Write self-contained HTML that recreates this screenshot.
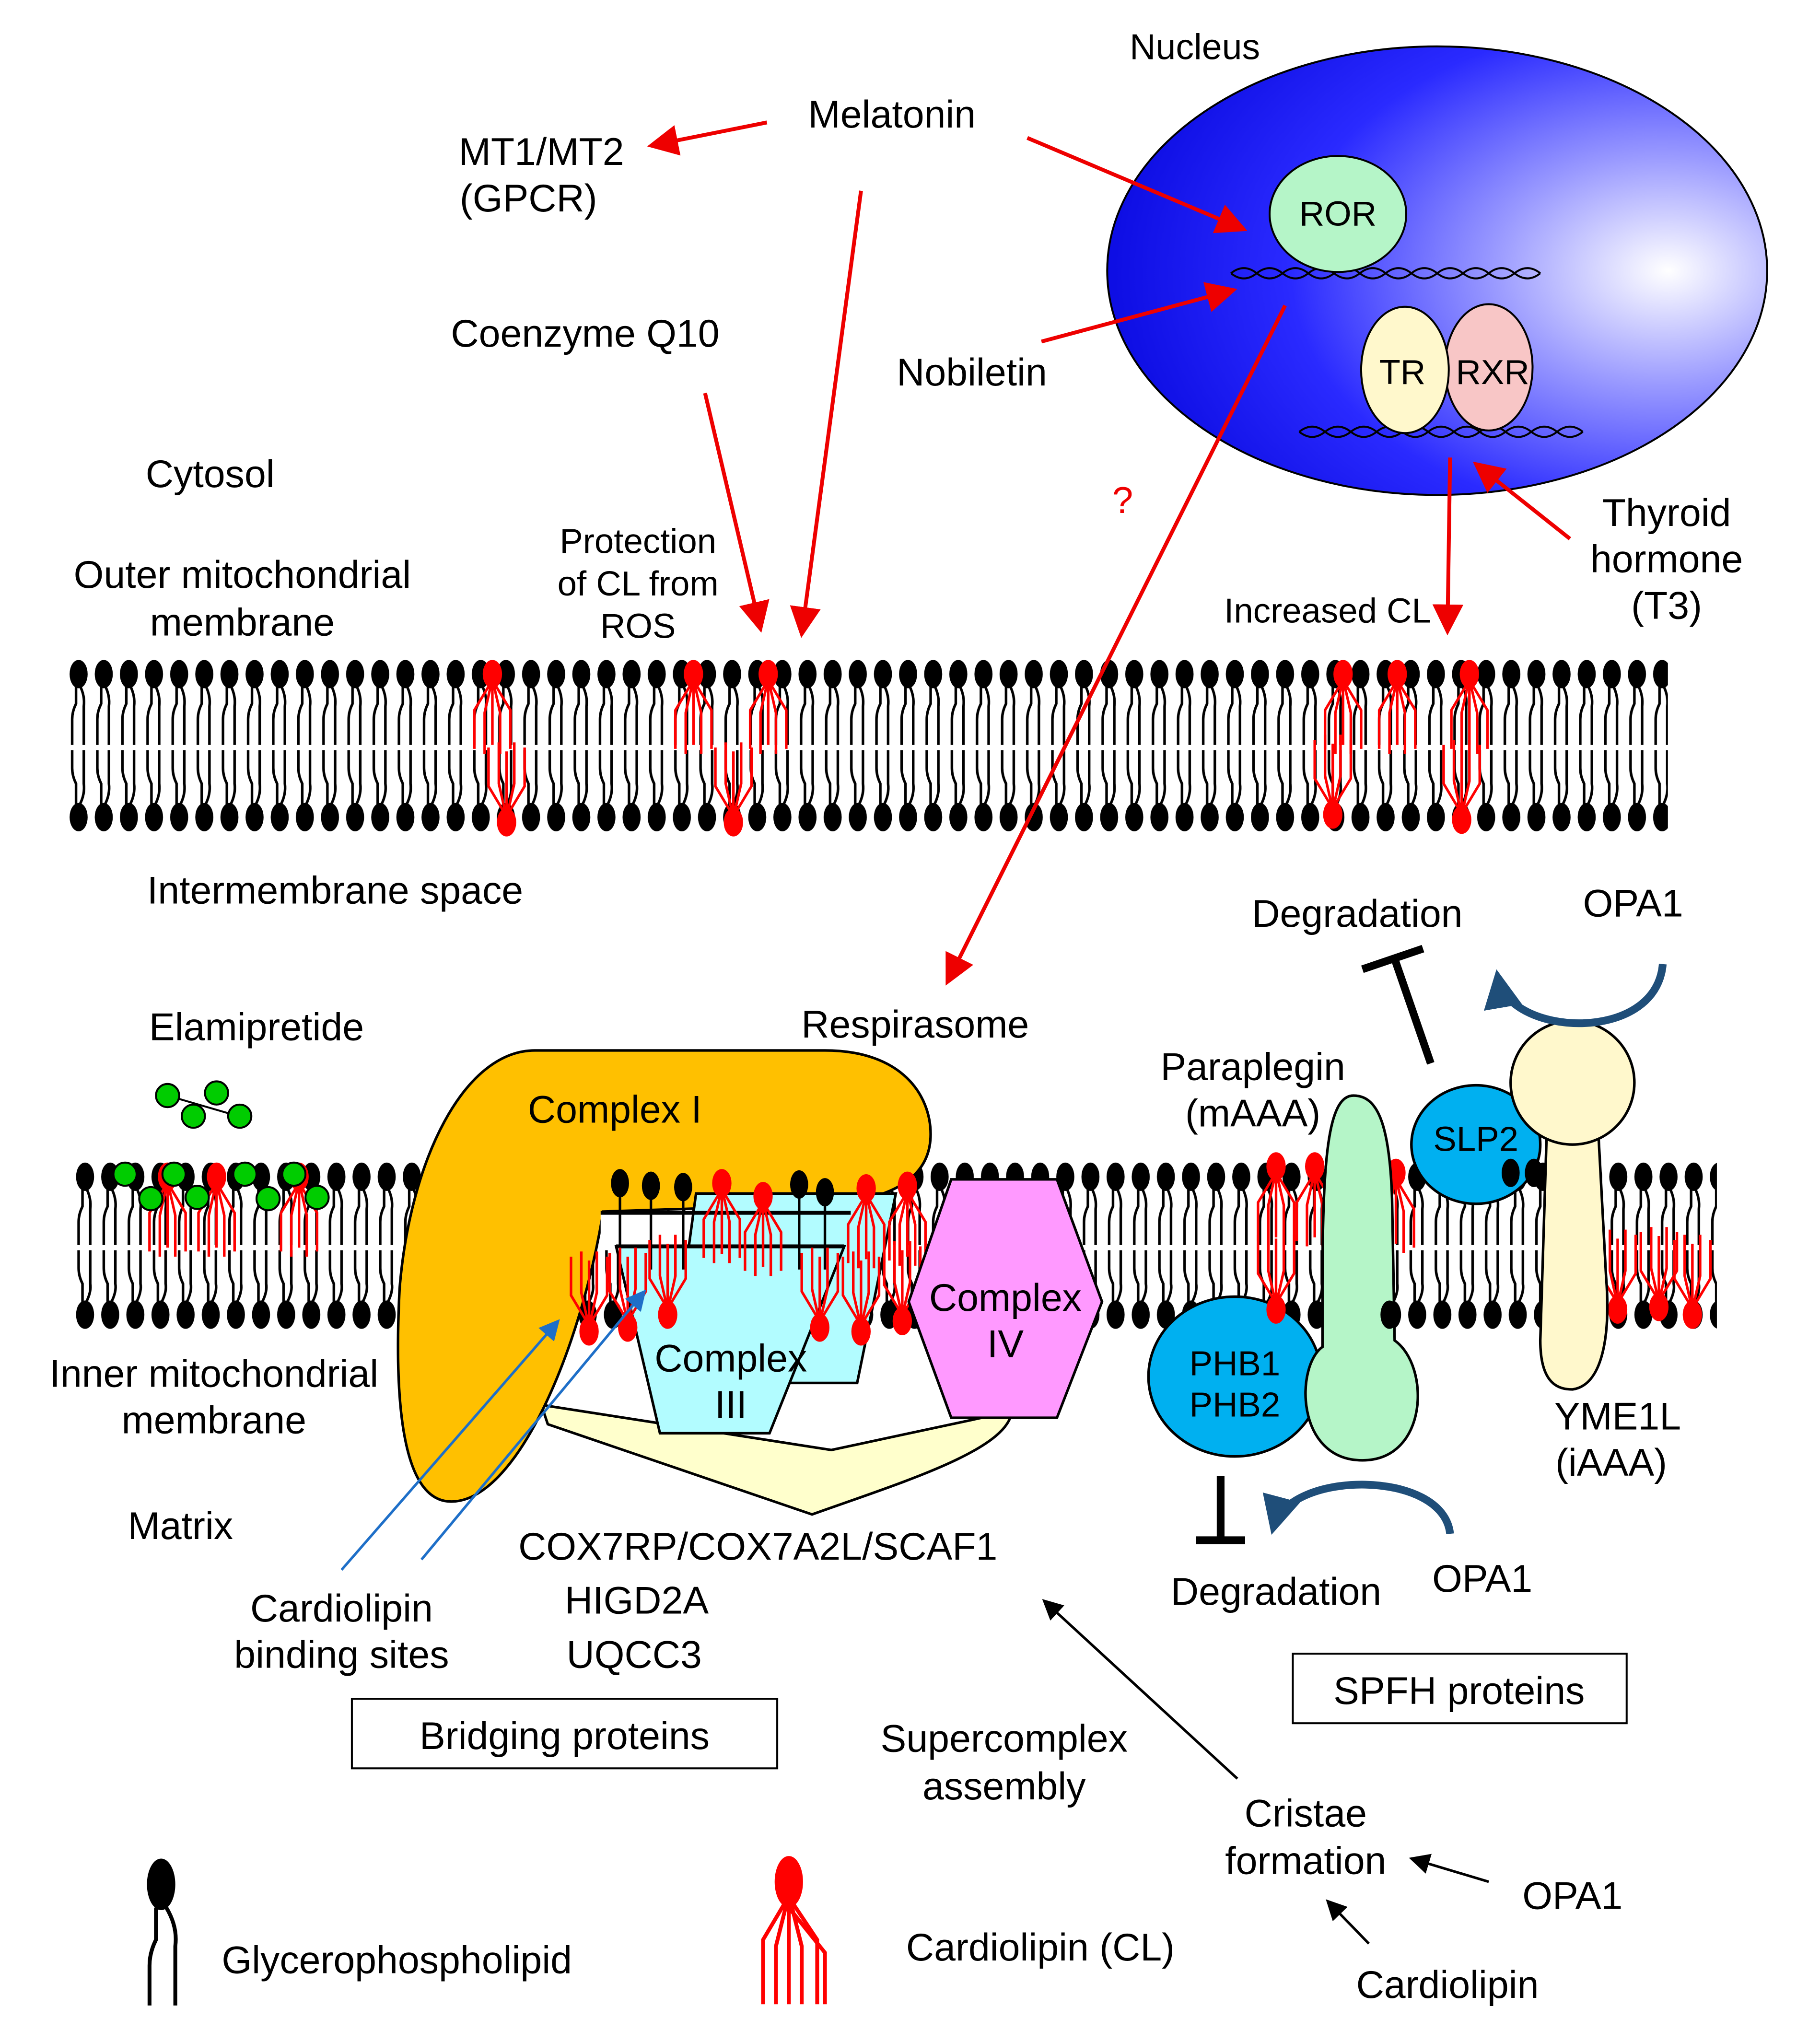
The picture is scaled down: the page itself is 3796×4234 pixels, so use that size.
<!DOCTYPE html>
<html><head><meta charset="utf-8"><style>html,body{margin:0;padding:0;background:#fff}svg{display:block}text{font-family:"Liberation Sans",Arial,sans-serif;fill:#000}</style></head><body>
<svg width="3796" height="4234" viewBox="0 0 1412 1575" preserveAspectRatio="none" xmlns="http://www.w3.org/2000/svg">
<defs>
<radialGradient id="ng" cx="0.82" cy="0.5" r="0.85" fx="0.85" fy="0.5">
<stop offset="0" stop-color="#ffffff"/><stop offset="0.3" stop-color="#9a9aff"/><stop offset="0.65" stop-color="#2a2aff"/><stop offset="1" stop-color="#0a0ae0"/></radialGradient>
<pattern id="lipO" patternUnits="userSpaceOnUse" x="51" y="510" width="19.5" height="140">
<ellipse cx="10" cy="13" rx="7" ry="11" fill="#000"/>
<path d="M8,22 L8,36 Q5,42 5,48 L5,68 M11,22 Q15,30 14,38 L14,68" stroke="#000" stroke-width="2" fill="none"/>
<ellipse cx="10" cy="124" rx="7" ry="11" fill="#000"/>
<path d="M8,114 L8,98 Q5,92 5,86 L5,72 M11,114 Q15,106 14,98 L14,72" stroke="#000" stroke-width="2" fill="none"/>
</pattern>
<pattern id="lipI" patternUnits="userSpaceOnUse" x="56" y="900" width="19.5" height="135">
<ellipse cx="10" cy="13" rx="7" ry="11" fill="#000"/>
<path d="M8,22 L8,36 Q5,42 5,48 L5,66 M11,22 Q15,30 14,38 L14,66" stroke="#000" stroke-width="2" fill="none"/>
<ellipse cx="10" cy="120" rx="7" ry="11" fill="#000"/>
<path d="M8,110 L8,96 Q5,90 5,84 L5,70 M11,110 Q15,102 14,96 L14,70" stroke="#000" stroke-width="2" fill="none"/>
</pattern>
<g id="clT"><path d="M-2,8 L-14,28 L-14,58 M-1,8 L-6,30 L-6,62 M1,8 L6,30 L6,62 M2,8 L14,28 L14,58 M0,8 L0,55" stroke="#f00" stroke-width="2" fill="none"/><ellipse cx="0" cy="0" rx="7.5" ry="11" fill="#f00"/></g>
<g id="clB"><path d="M-2,-8 L-14,-28 L-14,-58 M-1,-8 L-6,-30 L-6,-62 M1,-8 L6,-30 L6,-62 M2,-8 L14,-28 L14,-58 M0,-8 L0,-55" stroke="#f00" stroke-width="2" fill="none"/><ellipse cx="0" cy="0" rx="7.5" ry="11" fill="#f00"/></g>
<marker id="ar" markerWidth="8" markerHeight="8" refX="7" refY="4" orient="auto" markerUnits="strokeWidth"><path d="M0,0 L8,4 L0,8 Z" fill="#e00"/></marker>
<marker id="ak" markerWidth="8" markerHeight="8" refX="7" refY="4" orient="auto" markerUnits="strokeWidth"><path d="M0,0 L8,4 L0,8 Z" fill="#000"/></marker>
<marker id="ab" markerWidth="8" markerHeight="8" refX="7" refY="4" orient="auto" markerUnits="strokeWidth"><path d="M0,0 L8,4 L0,8 Z" fill="#1e6fc8"/></marker>
<marker id="an" markerWidth="5" markerHeight="5" refX="4" refY="2.5" orient="auto" markerUnits="strokeWidth"><path d="M0,0 L5,2.5 L0,5 Z" fill="#1f4e79"/></marker>
</defs>

<ellipse cx="1115" cy="210" rx="256" ry="174" fill="url(#ng)" stroke="#000" stroke-width="1.5"/>
<path d="M955,212 q10,-8 20,0 t20,0 t20,0 t20,0 t20,0 t20,0 t20,0 t20,0 t20,0 t20,0 t20,0 t20,0 M955,212 q10,8 20,0 t20,0 t20,0 t20,0 t20,0 t20,0 t20,0 t20,0 t20,0 t20,0 t20,0 t20,0" stroke="#000" stroke-width="1.5" fill="none"/>
<ellipse cx="1038" cy="166" rx="53" ry="45" fill="#b5f5c8" stroke="#000" stroke-width="1.5"/>
<text x="1038" y="175" font-size="27" text-anchor="middle">ROR</text>
<path d="M1008,335 q10,-8 20,0 t20,0 t20,0 t20,0 t20,0 t20,0 t20,0 t20,0 t20,0 t20,0 t20,0 M1008,335 q10,8 20,0 t20,0 t20,0 t20,0 t20,0 t20,0 t20,0 t20,0 t20,0 t20,0 t20,0" stroke="#000" stroke-width="1.5" fill="none"/>
<ellipse cx="1155" cy="285" rx="34" ry="49" fill="#f8c6c6" stroke="#000" stroke-width="1.5"/>
<ellipse cx="1090" cy="287" rx="34" ry="49" fill="#fff8cc" stroke="#000" stroke-width="1.5"/>
<text x="1088" y="298" font-size="27" text-anchor="middle">TR</text>
<text x="1158" y="298" font-size="27" text-anchor="middle">RXR</text>

<text x="927" y="46" font-size="28" text-anchor="middle">Nucleus</text>
<text x="692" y="99" font-size="30" text-anchor="middle">Melatonin</text>
<text x="420" y="128" font-size="30" text-anchor="middle">MT1/MT2</text>
<text x="410" y="164" font-size="30" text-anchor="middle">(GPCR)</text>
<text x="454" y="269" font-size="30" text-anchor="middle">Coenzyme Q10</text>
<text x="754" y="299" font-size="30" text-anchor="middle">Nobiletin</text>
<text x="163" y="378" font-size="30" text-anchor="middle">Cytosol</text>
<text x="188" y="456" font-size="30" text-anchor="middle">Outer mitochondrial</text>
<text x="188" y="493" font-size="30" text-anchor="middle">membrane</text>
<text x="495" y="429" font-size="27" text-anchor="middle">Protection</text>
<text x="495" y="462" font-size="27" text-anchor="middle">of CL from</text>
<text x="495" y="495" font-size="27" text-anchor="middle">ROS</text>
<text x="871" y="398" font-size="29" style="fill:#e00" text-anchor="middle">?</text>
<text x="1030" y="483" font-size="27" text-anchor="middle">Increased CL</text>
<text x="1293" y="408" font-size="30" text-anchor="middle">Thyroid</text>
<text x="1293" y="444" font-size="30" text-anchor="middle">hormone</text>
<text x="1293" y="480" font-size="30" text-anchor="middle">(T3)</text>

<rect x="51" y="510" width="1243" height="140" fill="url(#lipO)"/>
<use href="#clT" x="382" y="523"/><use href="#clT" x="538" y="523"/><use href="#clT" x="596" y="523"/>
<use href="#clT" x="1042" y="523"/><use href="#clT" x="1084" y="523"/><use href="#clT" x="1140" y="523"/>
<use href="#clB" x="393" y="638"/><use href="#clB" x="569" y="638"/><use href="#clB" x="1034" y="632"/><use href="#clB" x="1134" y="636"/>

<text x="260" y="701" font-size="30" text-anchor="middle">Intermembrane space</text>
<text x="199" y="807" font-size="30" text-anchor="middle">Elamipretide</text>
<text x="710" y="805" font-size="30" text-anchor="middle">Respirasome</text>
<text x="1053" y="719" font-size="30" text-anchor="middle">Degradation</text>
<text x="1267" y="711" font-size="30" text-anchor="middle">OPA1</text>
<text x="972" y="838" font-size="30" text-anchor="middle">Paraplegin</text>
<text x="972" y="874" font-size="30" text-anchor="middle">(mAAA)</text>

<g stroke="#e00" stroke-width="3" fill="none">
<line x1="595" y1="95" x2="505" y2="113" marker-end="url(#ar)"/>
<line x1="797" y1="107" x2="965" y2="178" marker-end="url(#ar)"/>
<line x1="668" y1="148" x2="622" y2="492" marker-end="url(#ar)"/>
<line x1="547" y1="305" x2="590" y2="488" marker-end="url(#ar)"/>
<line x1="808" y1="265" x2="957" y2="225" marker-end="url(#ar)"/>
<line x1="997" y1="237" x2="735" y2="762" marker-end="url(#ar)"/>
<line x1="1125" y1="355" x2="1123" y2="490" marker-end="url(#ar)"/>
<line x1="1218" y1="418" x2="1145" y2="360" marker-end="url(#ar)"/>
</g>

<rect x="56" y="900" width="1276" height="135" fill="url(#lipI)"/>
<use href="#clT" x="130" y="913"/><use href="#clT" x="168" y="913"/><use href="#clT" x="232" y="913"/>
<use href="#clT" x="990" y="905"/><use href="#clT" x="1020" y="905"/><use href="#clT" x="1083" y="910"/>
<use href="#clB" x="1255" y="1016"/><use href="#clB" x="1287" y="1014"/><use href="#clB" x="1313" y="1020"/>

<g fill="#00cc00" stroke="#000" stroke-width="1.5">
<line x1="130" y1="850" x2="185" y2="866" stroke="#000"/>
<circle cx="130" cy="850" r="9"/><circle cx="150" cy="866" r="9"/><circle cx="168" cy="848" r="9"/><circle cx="186" cy="866" r="9"/>
<circle cx="97" cy="911" r="9"/><circle cx="117" cy="930" r="9"/><circle cx="135" cy="911" r="9"/><circle cx="153" cy="929" r="9"/>
<circle cx="190" cy="911" r="9"/><circle cx="208" cy="930" r="9"/><circle cx="228" cy="911" r="9"/><circle cx="246" cy="929" r="9"/>
</g>

<path d="M420,1090 L645,1125 L785,1095 C782,1125 700,1150 630,1175 L425,1105 Z" fill="#ffffcc" stroke="#000" stroke-width="2"/>
<path d="M415,815 L640,815 C700,815 722,850 722,880 C722,920 680,935 620,935 L468,940 C450,1050 400,1165 350,1165 C315,1165 305,1100 310,1000 C318,900 360,815 415,815 Z" fill="#ffc000" stroke="#000" stroke-width="2"/>
<text x="477" y="871" font-size="30" text-anchor="middle">Complex I</text>
<rect x="466" y="940" width="195" height="28" fill="#fff"/>
<path d="M540,926 L695,926 L665,1073 L520,1073 Z" fill="#b2fcff" stroke="#000" stroke-width="2"/>
<path d="M478,967 L655,967 L597,1112 L512,1112 Z" fill="#b2fcff" stroke="#000" stroke-width="2"/>
<g>
<ellipse cx="481" cy="918" rx="7" ry="11"/><ellipse cx="505" cy="920" rx="7" ry="11"/><ellipse cx="530" cy="921" rx="7" ry="11"/><ellipse cx="620" cy="919" rx="7" ry="11"/><ellipse cx="640" cy="925" rx="7" ry="11"/>
<path d="M481,928 L481,985 M505,930 L505,985 M530,931 L530,985 M620,929 L620,985 M640,935 L640,985" stroke="#000" stroke-width="2"/>
<line x1="466" y1="941" x2="660" y2="941" stroke="#000" stroke-width="3"/>
<line x1="478" y1="967" x2="655" y2="967" stroke="#000" stroke-width="3"/>
</g>
<use href="#clT" x="560" y="918"/><use href="#clT" x="592" y="928"/><use href="#clT" x="672" y="922"/><use href="#clT" x="704" y="920"/>
<use href="#clB" x="457" y="1033"/><use href="#clB" x="487" y="1030"/><use href="#clB" x="518" y="1020"/><use href="#clB" x="636" y="1030"/><use href="#clB" x="668" y="1033"/><use href="#clB" x="700" y="1025"/>
<text x="567" y="1064" font-size="30" text-anchor="middle">Complex</text>
<text x="567" y="1100" font-size="30" text-anchor="middle">III</text>
<path d="M738,915 L820,915 L855,1010 L820,1100 L738,1100 L705,1010 Z" fill="#ff99ff" stroke="#000" stroke-width="2"/>
<text x="780" y="1017" font-size="30" text-anchor="middle">Complex</text>
<text x="780" y="1053" font-size="30" text-anchor="middle">IV</text>

<ellipse cx="958" cy="1068" rx="67" ry="62" fill="#00b0f0" stroke="#000" stroke-width="2"/>
<text x="958" y="1067" font-size="27" text-anchor="middle">PHB1</text>
<text x="958" y="1099" font-size="27" text-anchor="middle">PHB2</text>
<use href="#clB" x="990" y="1016"/>
<path d="M1050,850 C1030,850 1026,900 1026,1000 L1026,1045 C1005,1060 1005,1133 1057,1133 C1108,1133 1110,1060 1082,1040 L1080,930 C1078,870 1068,850 1050,850Z" fill="#b5f5c8" stroke="#000" stroke-width="2"/>
<ellipse cx="1078" cy="1020" rx="7" ry="11"/>
<ellipse cx="1145" cy="888" rx="50" ry="46" fill="#00b0f0" stroke="#000" stroke-width="2"/>
<text x="1145" y="893" font-size="27" text-anchor="middle">SLP2</text>
<ellipse cx="1172" cy="910" rx="7" ry="11"/><ellipse cx="1190" cy="910" rx="7" ry="11"/>
<path d="M1200,878 L1195,1040 C1195,1075 1210,1078 1220,1078 C1242,1075 1250,1040 1246,990 L1240,878 Z" fill="#fff8cc" stroke="#000" stroke-width="2"/>
<circle cx="1220" cy="840" r="48" fill="#fff8cc" stroke="#000" stroke-width="2"/>
<path d="M1205,880 L1236,880" stroke="#fff8cc" stroke-width="6"/>

<path d="M1290,748 C1285,810 1170,805 1162,758" stroke="#1f4e79" stroke-width="6" fill="none" marker-end="url(#an)"/>
<path d="M1125,1190 C1120,1140 1000,1140 988,1185" stroke="#1f4e79" stroke-width="6" fill="none" marker-end="url(#an)"/>
<path d="M1110,825 L1082,744 M1057,752 L1104,736" stroke="#000" stroke-width="6" fill="none"/>
<path d="M947,1145 L947,1195 M928,1195 L966,1195" stroke="#000" stroke-width="6" fill="none"/>

<line x1="265" y1="1218" x2="433" y2="1025" stroke="#1e6fc8" stroke-width="2" marker-end="url(#ab)"/>
<line x1="327" y1="1210" x2="500" y2="1002" stroke="#1e6fc8" stroke-width="2" marker-end="url(#ab)"/>

<text x="166" y="1076" font-size="30" text-anchor="middle">Inner mitochondrial</text>
<text x="166" y="1112" font-size="30" text-anchor="middle">membrane</text>
<text x="140" y="1194" font-size="30" text-anchor="middle">Matrix</text>
<text x="1255" y="1109" font-size="30" text-anchor="middle">YME1L</text>
<text x="1250" y="1145" font-size="30" text-anchor="middle">(iAAA)</text>
<text x="588" y="1210" font-size="30" text-anchor="middle">COX7RP/COX7A2L/SCAF1</text>
<text x="494" y="1252" font-size="30" text-anchor="middle">HIGD2A</text>
<text x="492" y="1294" font-size="30" text-anchor="middle">UQCC3</text>
<text x="265" y="1258" font-size="30" text-anchor="middle">Cardiolipin</text>
<text x="265" y="1294" font-size="30" text-anchor="middle">binding sites</text>
<text x="990" y="1245" font-size="30" text-anchor="middle">Degradation</text>
<text x="1150" y="1235" font-size="30" text-anchor="middle">OPA1</text>
<rect x="273" y="1318" width="330" height="54" fill="none" stroke="#000" stroke-width="1.5"/>
<text x="438" y="1357" font-size="30" text-anchor="middle">Bridging proteins</text>
<rect x="1003" y="1283" width="259" height="54" fill="none" stroke="#000" stroke-width="1.5"/>
<text x="1132" y="1322" font-size="30" text-anchor="middle">SPFH proteins</text>
<text x="779" y="1359" font-size="30" text-anchor="middle">Supercomplex</text>
<text x="779" y="1396" font-size="30" text-anchor="middle">assembly</text>
<text x="1013" y="1417" font-size="30" text-anchor="middle">Cristae</text>
<text x="1013" y="1454" font-size="30" text-anchor="middle">formation</text>
<text x="1220" y="1481" font-size="30" text-anchor="middle">OPA1</text>
<text x="1123" y="1550" font-size="30" text-anchor="middle">Cardiolipin</text>
<line x1="960" y1="1380" x2="810" y2="1242" stroke="#000" stroke-width="2" marker-end="url(#ak)"/>
<line x1="1155" y1="1460" x2="1095" y2="1442" stroke="#000" stroke-width="2" marker-end="url(#ak)"/>
<line x1="1062" y1="1508" x2="1030" y2="1475" stroke="#000" stroke-width="2" marker-end="url(#ak)"/>

<ellipse cx="125" cy="1462" rx="11" ry="20" fill="#000"/>
<path d="M121,1480 L121,1505 Q116,1515 116,1525 L116,1556 M129,1480 Q138,1495 136,1510 L136,1556" stroke="#000" stroke-width="3" fill="none"/>
<text x="172" y="1531" font-size="30">Glycerophospholipid</text>
<ellipse cx="612" cy="1460" rx="11" ry="20" fill="#f00"/>
<path d="M608,1478 L592,1505 L592,1555 M610,1478 L602,1510 L602,1555 M612,1478 L612,1555 M614,1478 L622,1510 L622,1555 M616,1478 L634,1505 L634,1555 M612,1480 L640,1515 L640,1555" stroke="#f00" stroke-width="3" fill="none"/>
<text x="703" y="1521" font-size="30">Cardiolipin (CL)</text>
</svg>
</body></html>
